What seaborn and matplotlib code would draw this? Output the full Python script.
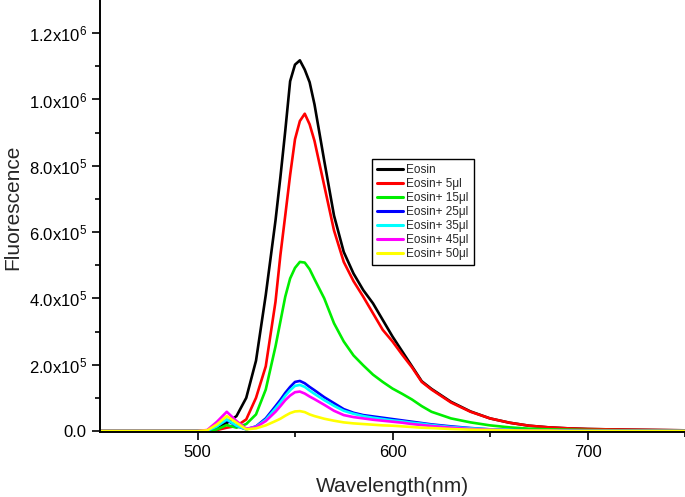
import pandas as pd
import matplotlib.pyplot as plt
import seaborn as sns

wavelength = [450, 500, 505, 510, 515, 520, 525, 530, 535, 540, 542.5, 545, 547.5, 550, 552.5,
              555, 557.5, 560, 565, 570, 575, 580, 585, 590, 595, 600, 605, 610, 615, 620,
              630, 640, 650, 660, 670, 680, 690, 700, 720, 750]

# fluorescence in thousands of counts
eosin = [0, 0, 2, 10, 24, 45, 100, 212, 410, 635, 765, 905, 1055, 1105, 1118,
         1090, 1052, 985, 815, 650, 540, 475, 425, 385, 335, 285, 240, 195, 150, 127,
         88, 59, 38, 25, 16, 11, 8, 6, 4, 2]
eosin_5 = [0, 0, 0, 3, 10, 15, 35, 100, 195, 390, 530, 650, 772, 880, 935,
           957, 925, 875, 740, 605, 510, 452, 405, 355, 305, 270, 230, 192, 148, 125,
           86, 58, 38, 25, 16, 11, 8, 6, 4, 2]
eosin_15 = [0, 0, 0, 5, 18, 10, 21, 50, 125, 255, 330, 405, 460, 492, 510,
            508, 488, 458, 400, 325, 270, 228, 198, 170, 148, 128, 112, 95, 75, 58,
            38, 26, 17, 11, 7, 5, 4, 3, 2, 1]
eosin_25 = [0, 0, 1, 15, 33, 15, 5, 14, 38, 75, 94, 115, 133, 148, 151,
            144, 133, 123, 102, 84, 66, 55, 48, 44, 40, 36, 32, 28, 24, 20,
            14, 9, 5, 3, 2, 1, 1, 0, 0, 0]
eosin_35 = [0, 0, 1, 14, 35, 16, 5, 13, 34, 68, 86, 106, 123, 136, 139,
            133, 122, 112, 93, 76, 61, 52, 45, 40, 36, 32, 29, 25, 22, 18,
            12, 8, 5, 3, 2, 1, 1, 0, 0, 0]
eosin_45 = [0, 0, 3, 28, 58, 30, 7, 12, 30, 58, 75, 93, 107, 117, 119,
            113, 104, 96, 79, 61, 48, 42, 38, 34, 31, 28, 25, 21, 18, 15,
            10, 6, 4, 2, 1, 1, 0, 0, 0, 0]
eosin_50 = [0, 0, 2, 20, 45, 25, 5, 8, 17, 30, 37, 46, 54, 59, 60,
            57, 50, 45, 37, 31, 26, 23, 21, 19, 17, 16, 14, 12, 10, 9,
            6, 4, 3, 2, 1, 1, 0, 0, 0, 0]

samples = ["Eosin", "Eosin+ 5μl", "Eosin+ 15μl", "Eosin+ 25μl",
           "Eosin+ 35μl", "Eosin+ 45μl", "Eosin+ 50μl"]
colors = ["#000000", "#ff0000", "#00ee00", "#0000ff", "#00ffff", "#ff00ff", "#ffff00"]

y_ticks = [0, 2e5, 4e5, 6e5, 8e5, 1e6, 1.2e6]
y_labels = ["0.0", r"$\mathregular{2.0x10^{5}}$", r"$\mathregular{4.0x10^{5}}$",
            r"$\mathregular{6.0x10^{5}}$", r"$\mathregular{8.0x10^{5}}$",
            r"$\mathregular{1.0x10^{6}}$", r"$\mathregular{1.2x10^{6}}$"]
x_ticks = [500, 600, 700]

series = [eosin, eosin_5, eosin_15, eosin_25, eosin_35, eosin_45, eosin_50]
rows = []
for name, vals in zip(samples, series):
    for w, v in zip(wavelength, vals):
        rows.append({"wavelength": w, "value": v * 1000, "sample": name})
df = pd.DataFrame(rows)

sns.set_style("ticks")
plt.rcParams['font.family'] = ['Liberation Sans', 'DejaVu Sans']
plt.rcParams['mathtext.fontset'] = 'custom'
plt.rcParams['mathtext.rm'] = 'Liberation Sans'

fig = plt.figure(figsize=(6.85, 4.97), dpi=100)
ax = fig.add_axes([100 / 685, 65 / 497, 585 / 685, 432 / 497])

sns.lineplot(data=df, x="wavelength", y="value", hue="sample", hue_order=samples,
             palette=colors, linewidth=1.9, estimator=None, ax=ax)

ax.set_xlim(450, 750)
ax.set_ylim(-3000, 1.3e6)
ax.set_xticks(x_ticks)
ax.set_xticks([550, 650, 750], minor=True)
ax.set_yticks(y_ticks)
ax.set_yticklabels(y_labels)
ax.set_yticks([1e5, 3e5, 5e5, 7e5, 9e5, 1.1e6], minor=True)
ax.tick_params(axis='both', which='major', direction='out', length=6, width=1.2,
               labelsize=12, color='black', labelcolor='black')
ax.tick_params(axis='both', which='minor', direction='out', length=3.5, width=1.2,
               color='black')

for side in ['top', 'right']:
    ax.spines[side].set_visible(False)
for side in ['left', 'bottom']:
    ax.spines[side].set_linewidth(1.4)
    ax.spines[side].set_color('black')

ax.set_xlabel("Wavelength(nm)", fontsize=15, labelpad=12)
ax.set_ylabel("Fluorescence", fontsize=15)
ax.yaxis.set_label_coords(-0.133, 0.52)

handles, labels = ax.get_legend_handles_labels()
leg = ax.legend(handles, labels, loc='upper left', bbox_to_anchor=(0.465, 0.632),
                borderaxespad=0, fontsize=8.5, frameon=True, fancybox=False,
                edgecolor='black', framealpha=1, handlelength=2.2,
                handletextpad=0.3, labelspacing=0.17, borderpad=0.42)
leg.get_frame().set_linewidth(1.0)
for h in leg.get_lines():
    h.set_linewidth(2.2)

fig.savefig("out.png", dpi=100)
